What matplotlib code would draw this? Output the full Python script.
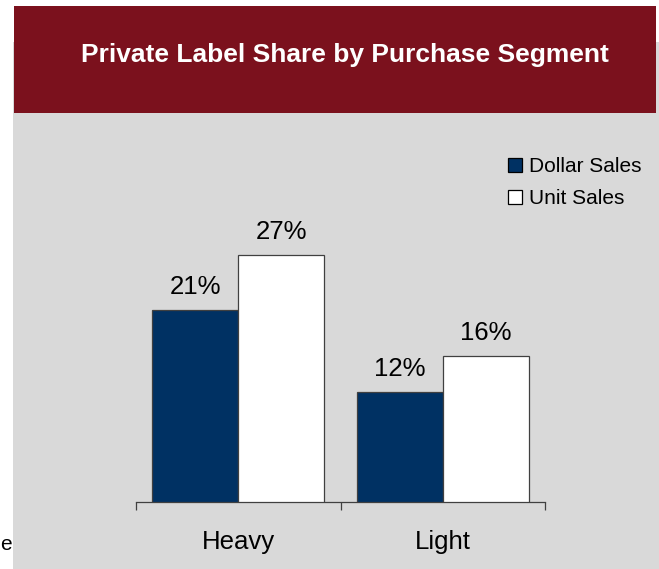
import matplotlib
matplotlib.use("Agg")
import matplotlib.pyplot as plt
from matplotlib.patches import Rectangle, Patch
import numpy as np

plt.rcParams['font.family'] = ['Liberation Sans', 'DejaVu Sans']

categories = ["Heavy", "Light"]
series_names = ["Dollar Sales", "Unit Sales"]
dollar_sales = [21, 12]
unit_sales = [27, 16]
value_labels = [["21%", "12%"], ["27%", "16%"]]

W, H = 659, 569
fig = plt.figure(figsize=(W / 100, H / 100), dpi=100)
fig.patch.set_facecolor("white")

# background panel and title banner
fig.add_artist(Rectangle((13 / W, 0), 1 - 13 / W, 1 - 42 / H, transform=fig.transFigure,
                         facecolor="#d9d9d9", edgecolor="none", zorder=0))
fig.add_artist(Rectangle((14 / W, 1 - 113 / H), (656 - 14) / W, (113 - 6) / H,
                         transform=fig.transFigure, facecolor="#7b111d", edgecolor="none", zorder=1))
fig.text(345 / W, 1 - 55 / H, "Private Label Share by Purchase Segment", color="white",
         fontsize=19, fontweight="bold", ha="center", va="center", zorder=2)
fig.text(0, 1 - 545 / H, "e", fontsize=15, ha="left", va="center")

ymax = 36
px_per_unit = 9.15
ax_bottom = 502
ax_top = ax_bottom - ymax * px_per_unit
ax = fig.add_axes([136 / W, 1 - ax_bottom / H, (545 - 136) / W, (ax_bottom - ax_top) / H])
ax.set_facecolor("none")

x = np.arange(len(categories))
bw = 0.42
colors = ["#003163", "#ffffff"]
for i, (vals, col) in enumerate(zip([dollar_sales, unit_sales], colors)):
    offs = (i - 0.5) * bw
    ax.bar(x + offs, vals, width=bw, color=col, edgecolor="#404040", linewidth=0.9,
           label=series_names[i], zorder=3)
    for xi, v, lab in zip(x, vals, value_labels[i]):
        ax.text(xi + offs, v + 1.2, lab, ha="center", va="bottom", fontsize=18.5)

ax.set_xlim(-0.5, 1.5)
ax.set_ylim(0, ymax)
for s in ["top", "right", "left"]:
    ax.spines[s].set_visible(False)
ax.spines["bottom"].set_color("#404040")
ax.spines["bottom"].set_linewidth(0.9)
ax.set_yticks([])
ax.set_xticks(x)
ax.set_xticklabels(categories, fontsize=18.5)
ax.tick_params(axis="x", which="major", length=0, pad=20)
ax.set_xticks([-0.5, 0.5, 1.5], minor=True)
ax.tick_params(axis="x", which="minor", length=6, width=0.9, color="#404040", direction="out")

handles = [Patch(facecolor=c, edgecolor="black", linewidth=0.9) for c in colors]
fig.legend(handles, series_names, loc="upper left", bbox_to_anchor=(508 / W, 1 - 157 / H),
           frameon=False, fontsize=15, handlelength=0.65, handleheight=0.65,
           handletextpad=0.35, labelspacing=0.62, borderaxespad=0, borderpad=0)

fig.savefig("out.png", dpi=100)
